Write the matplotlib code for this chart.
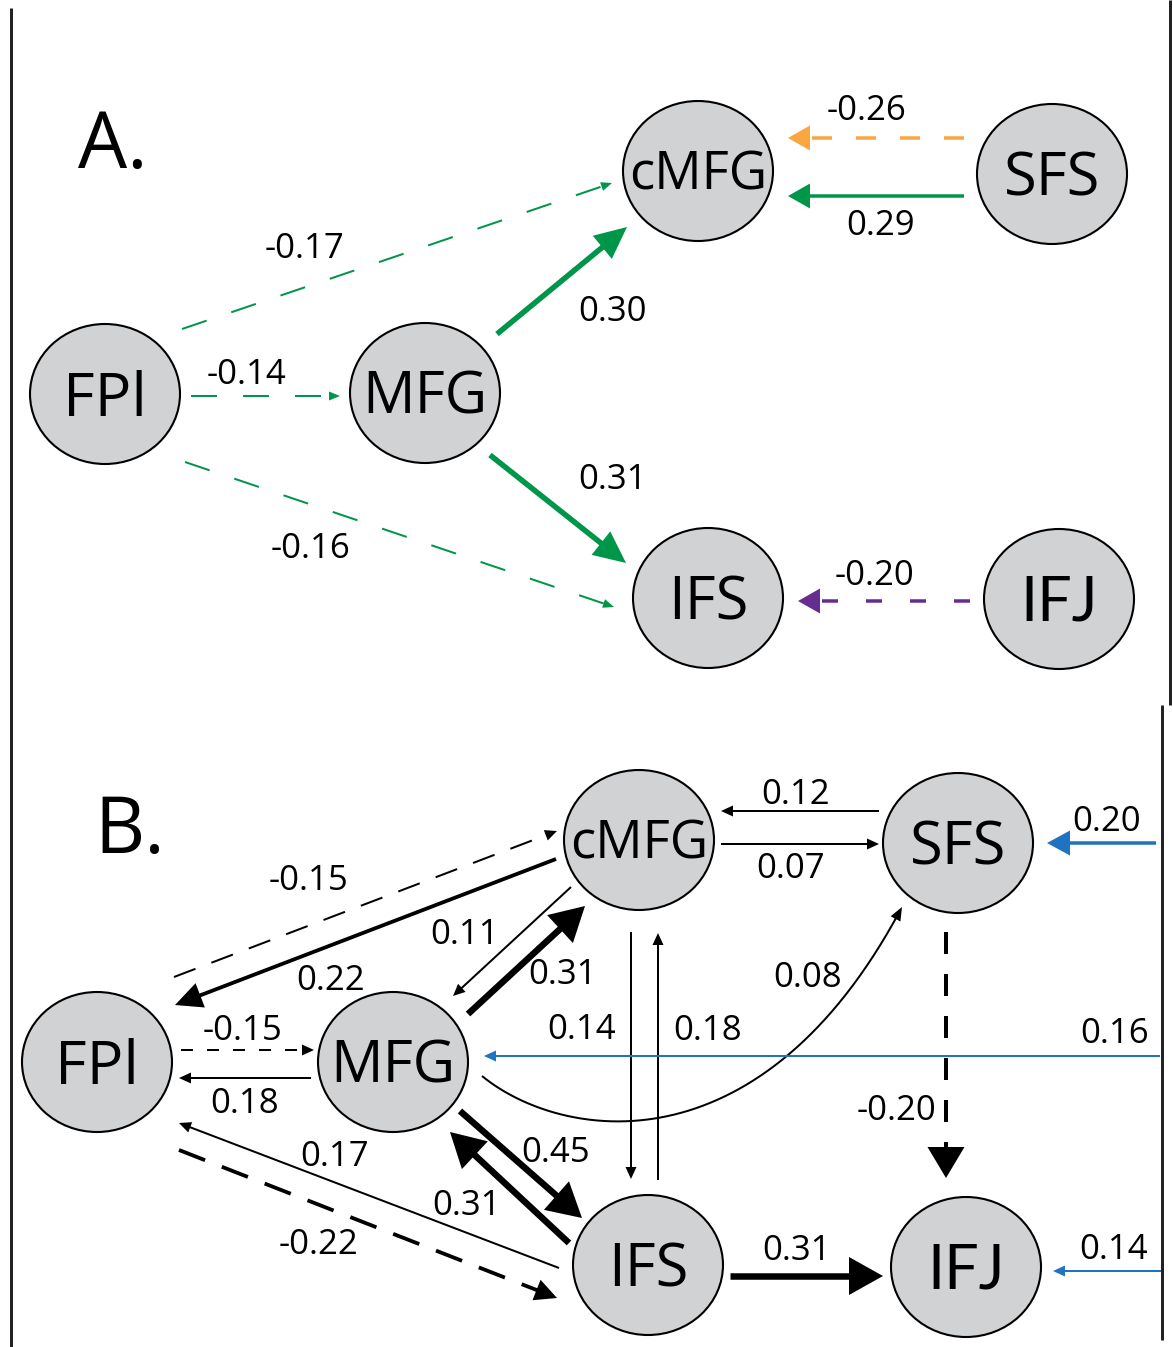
import numpy as np
import matplotlib
matplotlib.use("Agg")
import matplotlib.pyplot as plt
from matplotlib.patches import Ellipse, Polygon

plt.rcParams['font.family'] = ['Open Sans', 'DejaVu Sans']
plt.rcParams['lines.scale_dashes'] = False

# ---------------- data ----------------
node_names = ["FPl", "MFG", "cMFG", "IFS", "SFS", "IFJ"]

A_from = ["FPl", "FPl", "FPl", "MFG", "MFG", "SFS", "SFS", "IFJ"]
A_to = ["cMFG", "MFG", "IFS", "cMFG", "IFS", "cMFG", "cMFG", "IFS"]
A_coef = [-0.17, -0.14, -0.16, 0.30, 0.31, -0.26, 0.29, -0.20]

B_from = ["SFS", "cMFG", "input", "FPl", "cMFG", "cMFG", "MFG", "cMFG", "IFS", "MFG",
          "input", "FPl", "MFG", "IFS", "FPl", "MFG", "IFS", "SFS", "IFS", "input"]
B_to = ["cMFG", "SFS", "SFS", "cMFG", "FPl", "MFG", "cMFG", "IFS", "cMFG", "SFS",
        "MFG", "MFG", "FPl", "FPl", "IFS", "IFS", "MFG", "IFJ", "IFJ", "IFJ"]
B_coef = [0.12, 0.07, 0.20, -0.15, 0.22, 0.11, 0.31, 0.14, 0.18, 0.08,
          0.16, -0.15, 0.18, 0.17, -0.22, 0.45, 0.31, -0.20, 0.31, 0.14]

# ---------------- layout (pixels, y downward) ----------------
W, H = 1173, 1347
RX, RY = 75, 70
pos_A = {"FPl": (105, 394), "MFG": (425, 393), "cMFG": (698, 171),
         "SFS": (1052, 174), "IFS": (708, 598), "IFJ": (1059, 599)}
pos_B = {"FPl": (97, 1062), "MFG": (393, 1062), "cMFG": (639, 840),
         "SFS": (958, 843), "IFS": (648, 1265), "IFJ": (966, 1267)}
node_fs = {"FPl": 44, "MFG": 42, "cMFG": 38, "IFS": 43, "SFS": 43, "IFJ": 44}
node_font = {"IFJ": ['Lato', 'DejaVu Sans']}

GREEN = "#00964a"
ORANGE = "#f9a73e"
PURPLE = "#662d91"
BLUE = "#1f73c1"
BLACK = "#000000"

# style presets: (lw px, head length px, head width px)
THIN_A = (2.0, 11, 9)
THICK_A = (5.5, 32, 30)
MED_A = (3.5, 22, 25)
THIN_B = (2.0, 12, 11)
MED_B = (3.8, 27, 26)
THICK_B = (6.5, 34, 38)

# per-edge geometry: start, end, style, color, dash(on,off px), label pos
geo_A = [
    ((182, 329), (612, 183), THIN_A, GREEN, (26, 26), (305, 246)),
    ((191, 396), (340, 396), THIN_A, GREEN, (26, 26), (247, 372)),
    ((185, 462), (614, 607), THIN_A, GREEN, (26, 26), (310, 546)),
    ((497, 334), (627, 227), THICK_A, GREEN, None, (612, 309)),
    ((490, 455), (626, 563), THICK_A, GREEN, None, (612, 477)),
    ((964, 138), (788, 138), MED_A, ORANGE, (20, 24), (866, 108)),
    ((964, 196), (788, 196), MED_A, GREEN, None, (881, 223)),
    ((970, 601), (798, 601), MED_A, PURPLE, (16, 28), (874, 573)),
]

geo_B = [
    ((879, 811), (721, 811), THIN_B, BLACK, None, (796, 792)),
    ((721, 844), (879, 844), THIN_B, BLACK, None, (791, 866)),
    ((1156, 843), (1047, 843), (3.5, 23, 25), BLUE, None, (1107, 819)),
    ((174, 977), (557, 831), THIN_B, BLACK, (23, 17), (309, 878)),
    ((556, 859), (175, 1005), MED_B, BLACK, None, (331, 978)),
    ((571, 887), (453, 996), THIN_B, BLACK, None, (465, 932)),
    ((468, 1014), (585, 906), THICK_B, BLACK, None, (562, 972)),
    ((631, 932), (631, 1179), THIN_B, BLACK, None, (582, 1027)),
    ((658, 1180), (658, 933), THIN_B, BLACK, None, (708, 1028)),
    ((482, 1076), (902, 907), THIN_B, BLACK, None, (808, 975)),
    ((1160, 1056), (484, 1056), THIN_B, BLUE, None, (1115, 1031)),
    ((181, 1050), (314, 1050), THIN_B, BLACK, (12, 14), (243, 1028)),
    ((311, 1078), (179, 1078), THIN_B, BLACK, None, (245, 1101)),
    ((559, 1268), (179, 1123), THIN_B, BLACK, None, (335, 1154)),
    ((179, 1150), (557, 1298), (3.8, 22, 22), BLACK, (28, 18), (318, 1242)),
    ((460, 1111), (582, 1218), THICK_B, BLACK, None, (556, 1150)),
    ((569, 1243), (450, 1132), THICK_B, BLACK, None, (467, 1203)),
    ((946, 932), (946, 1178), (4.0, 31, 37), BLACK, (22, 20), (897, 1108)),
    ((730, 1276), (883, 1276), THICK_B, BLACK, None, (796, 1248)),
    ((1162, 1271), (1053, 1271), THIN_B, BLUE, None, (1114, 1247)),
]
# curved edge MFG -> SFS (index 9 in panel B): cubic control points
curve_ctrl = {9: ((560, 1140), (760, 1175))}

PT = 0.72  # points per pixel at dpi 100
NUM_FS = 25
NUM_PX = NUM_FS / PT

fig = plt.figure(figsize=(W / 100, H / 100), dpi=100)
ax = fig.add_axes([0, 0, 1, 1])
ax.set_xlim(0, W)
ax.set_ylim(H, 0)
ax.axis('off')


def draw_arrow(p0, p1, style, color, dash=None, ctrl=None):
    lw, hl, hw = style
    if ctrl is None:
        pts = np.array([p0, p1], dtype=float)
    else:
        t = np.linspace(0, 1, 400)[:, None]
        P0, C1, C2, P3 = [np.array(v, float) for v in (p0, ctrl[0], ctrl[1], p1)]
        pts = ((1 - t) ** 3) * P0 + 3 * t * (1 - t) ** 2 * C1 + 3 * t ** 2 * (1 - t) * C2 + t ** 3 * P3
    tip = pts[-1]
    dists = np.hypot(*(pts - tip).T)
    if ctrl is None:
        d = (pts[-1] - pts[0]) / np.hypot(*(pts[-1] - pts[0]))
        base = tip - d * hl
        line = np.array([pts[0], base + d * 2])
    else:
        keep = dists > hl
        line = pts[keep]
        base = line[-1]
        d = (tip - base) / np.hypot(*(tip - base))
        line = np.vstack([line, base + d * 2])
    n = np.array([-d[1], d[0]])
    ln, = ax.plot(line[:, 0], line[:, 1], color=color, lw=lw * PT,
                  solid_capstyle='butt', dash_capstyle='butt', zorder=2)
    if dash is not None:
        ln.set_dashes((dash[0] * PT, dash[1] * PT))
    head = Polygon([tip, base + n * hw / 2, base - n * hw / 2], closed=True,
                   facecolor=color, edgecolor='none', zorder=3)
    ax.add_patch(head)


def draw_label(xy, value):
    ax.text(xy[0], xy[1] + 0.357 * NUM_PX, f"{value:.2f}", fontsize=NUM_FS,
            ha='center', va='baseline', color='black', zorder=5)


def draw_nodes(pos):
    for name in node_names:
        cx, cy = pos[name]
        e = Ellipse((cx, cy), 2 * RX, 2 * RY, facecolor='#d1d2d4',
                    edgecolor='black', lw=1.5, zorder=4)
        ax.add_patch(e)
        fs = node_fs[name]
        ax.text(cx, cy + 0.357 * fs / PT, name, fontsize=fs, ha='center',
                va='baseline', color='black', zorder=5,
                family=node_font.get(name, ['Open Sans', 'DejaVu Sans']))


# panel A
for i, (s, t, c) in enumerate(zip(A_from, A_to, A_coef)):
    p0, p1, st, col, dash, lab = geo_A[i]
    draw_arrow(p0, p1, st, col, dash)
    draw_label(lab, c)
draw_nodes(pos_A)

# panel B
for i, (s, t, c) in enumerate(zip(B_from, B_to, B_coef)):
    p0, p1, st, col, dash, lab = geo_B[i]
    draw_arrow(p0, p1, st, col, dash, curve_ctrl.get(i))
    draw_label(lab, c)
draw_nodes(pos_B)

# panel letters
ax.text(78, 140 + 0.357 * 56 / PT, "A.", fontsize=56, ha='left', va='baseline')
ax.text(94, 825 + 0.357 * 56 / PT, "B.", fontsize=56, ha='left', va='baseline')

# frame lines
ax.plot([11, 11], [8, H], color='#222222', lw=3 * PT, solid_capstyle='butt')
ax.plot([1170, 1170], [0, 705], color='#222222', lw=3 * PT, solid_capstyle='butt')
ax.plot([1162, 1162], [705, 1340], color='#222222', lw=3 * PT, solid_capstyle='butt')

fig.savefig("out.png", dpi=100, facecolor='white')
